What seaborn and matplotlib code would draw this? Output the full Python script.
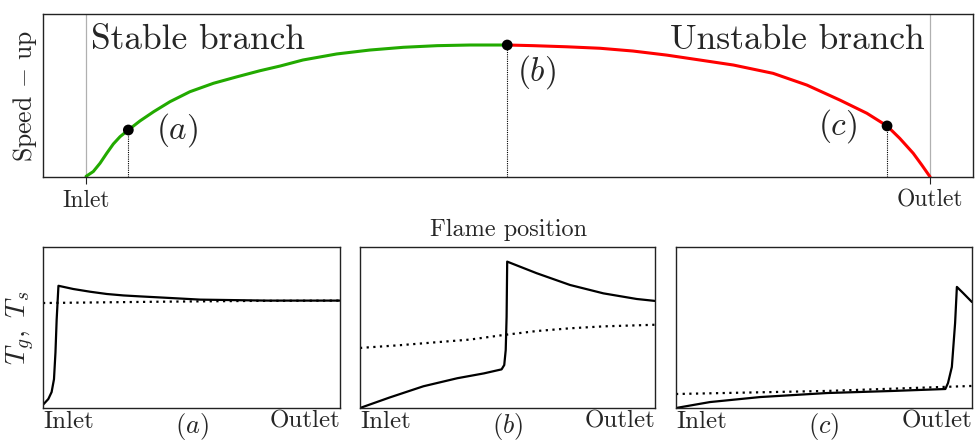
import numpy as np
import pandas as pd
import matplotlib
matplotlib.use("Agg")
import matplotlib.pyplot as plt
import seaborn as sns

# Speed-up versus flame position (0 = inlet, 1 = outlet)
flame_pos = [0.000, 0.0086, 0.0166, 0.0245, 0.0323, 0.0403, 0.0501, 0.064, 0.0803,
             0.0995, 0.123, 0.151, 0.179, 0.206, 0.230, 0.257, 0.297, 0.336, 0.376,
             0.416, 0.455, 0.499,
             0.530, 0.570, 0.609, 0.648, 0.688, 0.727, 0.767, 0.814, 0.854, 0.893,
             0.925, 0.949, 0.964, 0.980, 0.990, 1.000]
speed_up = [0.003, 0.033, 0.084, 0.145, 0.202, 0.247, 0.288, 0.344, 0.401,
            0.462, 0.523, 0.575, 0.615, 0.652, 0.681, 0.718, 0.755, 0.779, 0.796,
            0.806, 0.810, 0.810,
            0.806, 0.799, 0.790, 0.773, 0.748, 0.718, 0.687, 0.636, 0.564, 0.472,
            0.391, 0.313, 0.237, 0.145, 0.074, 0.000]
peak_index = 21

# Marked operating points (a), (b), (c)
point_labels = ["$(a)$", "$(b)$", "$(c)$"]
point_x = [0.0501, 0.499, 0.949]
point_y = [0.288, 0.810, 0.313]

# Temperature profiles along the reactor: gas (solid) and solid phase (dotted)
prof_a_x = [0.0, 0.018, 0.029, 0.037, 0.042, 0.046, 0.052, 0.102, 0.159, 0.215,
            0.271, 0.328, 0.390, 0.530, 0.757, 1.0]
prof_a_tg = [0.02, 0.056, 0.099, 0.179, 0.346, 0.549, 0.759, 0.739, 0.722, 0.708,
             0.699, 0.693, 0.687, 0.673, 0.667, 0.667]
prof_a_sx = [0.0, 0.39, 0.7, 1.0]
prof_a_ts = [0.652, 0.660, 0.665, 0.667]

prof_b_x = [0.0, 0.10, 0.215, 0.33, 0.42, 0.480, 0.489, 0.494, 0.497, 0.499,
            0.542, 0.599, 0.712, 0.825, 0.938, 1.0]
prof_b_tg = [0.0, 0.065, 0.135, 0.185, 0.215, 0.240, 0.267, 0.360, 0.567, 0.909,
             0.878, 0.837, 0.764, 0.712, 0.677, 0.665]
prof_b_sx = [0.0, 0.135, 0.27, 0.373, 0.485, 0.599, 0.712, 0.825, 1.0]
prof_b_ts = [0.373, 0.39, 0.41, 0.425, 0.453, 0.478, 0.495, 0.507, 0.517]

prof_c_x = [0.0, 0.115, 0.284, 0.51, 0.733, 0.91, 0.919, 0.932, 0.943, 0.949, 0.97, 1.0]
prof_c_tg = [0.0, 0.037, 0.068, 0.093, 0.106, 0.118, 0.155, 0.255, 0.528, 0.752, 0.714, 0.658]
prof_c_sx = [0.0, 0.51, 1.0]
prof_c_ts = [0.087, 0.106, 0.137]

sns.set_theme(style="white")
plt.rcParams["font.family"] = ["cmr10", "DejaVu Serif"]
plt.rcParams["mathtext.fontset"] = "cm"
plt.rcParams["axes.formatter.use_mathtext"] = True
plt.rcParams["axes.edgecolor"] = "#222222"
plt.rcParams["axes.linewidth"] = 1.0

fig = plt.figure(figsize=(9.75, 4.4), dpi=100)

# ---- top panel: speed-up curve ----
ax = fig.add_axes([0.0441, 0.598, 0.954, 0.370])
df = pd.DataFrame({"x": flame_pos, "y": speed_up})
stable = df.iloc[:peak_index + 1]
unstable = df.iloc[peak_index:]
sns.lineplot(data=stable, x="x", y="y", ax=ax, color="#22aa00", lw=2.2, sort=False)
sns.lineplot(data=unstable, x="x", y="y", ax=ax, color="#ff0000", lw=2.2, sort=False)
ax.axvline(0.0, color="#b0b0b0", lw=0.9, zorder=0)
ax.axvline(1.0, color="#b0b0b0", lw=0.9, zorder=0)
ax.vlines(point_x, 0, point_y, colors="black", linestyles=(0, (1, 1)), lw=0.8)
sns.scatterplot(x=point_x, y=point_y, ax=ax, color="black", s=60, zorder=5,
                edgecolor="none")
ax.text(0.108, 0.29, point_labels[0], fontsize=24, ha="center", va="center")
ax.text(0.534, 0.644, point_labels[1], fontsize=24, ha="center", va="center")
ax.text(0.89, 0.313, point_labels[2], fontsize=24, ha="center", va="center")
ax.text(0.006, 0.84, "Stable branch", fontsize=25.5, ha="left", va="center")
ax.text(0.994, 0.84, "Unstable branch", fontsize=25.5, ha="right", va="center")
ax.set_xlim(-0.051, 1.051)
ax.set_ylim(0, 1.0)
ax.set_xticks([0, 1])
ax.set_xticklabels(["Inlet", "Outlet"], fontsize=17)
ax.set_yticks([])
ax.tick_params(axis="x", direction="out", length=5, width=0.8, bottom=True, pad=4,
               color="#222222")
ax.set_xlabel("Flame position", fontsize=17.5, labelpad=5)
ax.set_ylabel("Speed $-$ up", fontsize=18.5, labelpad=3)

# ---- bottom panels: temperature profiles ----
panels = [
    ([0.0441, 0.3046], prof_a_x, prof_a_tg, prof_a_sx, prof_a_ts, point_labels[0]),
    ([0.3692, 0.3026], prof_b_x, prof_b_tg, prof_b_sx, prof_b_ts, point_labels[1]),
    ([0.6933, 0.3036], prof_c_x, prof_c_tg, prof_c_sx, prof_c_ts, point_labels[2]),
]
for i, (pos, gx, tg, sx, ts, lab) in enumerate(panels):
    bx = fig.add_axes([pos[0], 0.0727, pos[1], 0.366])
    sns.lineplot(x=gx, y=tg, ax=bx, color="black", lw=1.6, sort=False)
    sns.lineplot(x=sx, y=ts, ax=bx, color="black", lw=1.6, sort=False,
                 linestyle=(0, (1, 2)))
    bx.set_xlim(0, 1)
    bx.set_ylim(0, 1)
    bx.set_yticks([])
    bx.set_xticks([0, 0.5, 1])
    labels = bx.set_xticklabels(["Inlet", lab, "Outlet"], fontsize=18)
    labels[0].set_ha("left")
    labels[1].set_fontsize(19)
    labels[2].set_ha("right")
    bx.tick_params(axis="x", length=0, pad=2)
    if i == 0:
        bx.set_ylabel("$T_g,\\ T_s$", fontsize=20, labelpad=4)

fig.savefig("out.png", dpi=100)
